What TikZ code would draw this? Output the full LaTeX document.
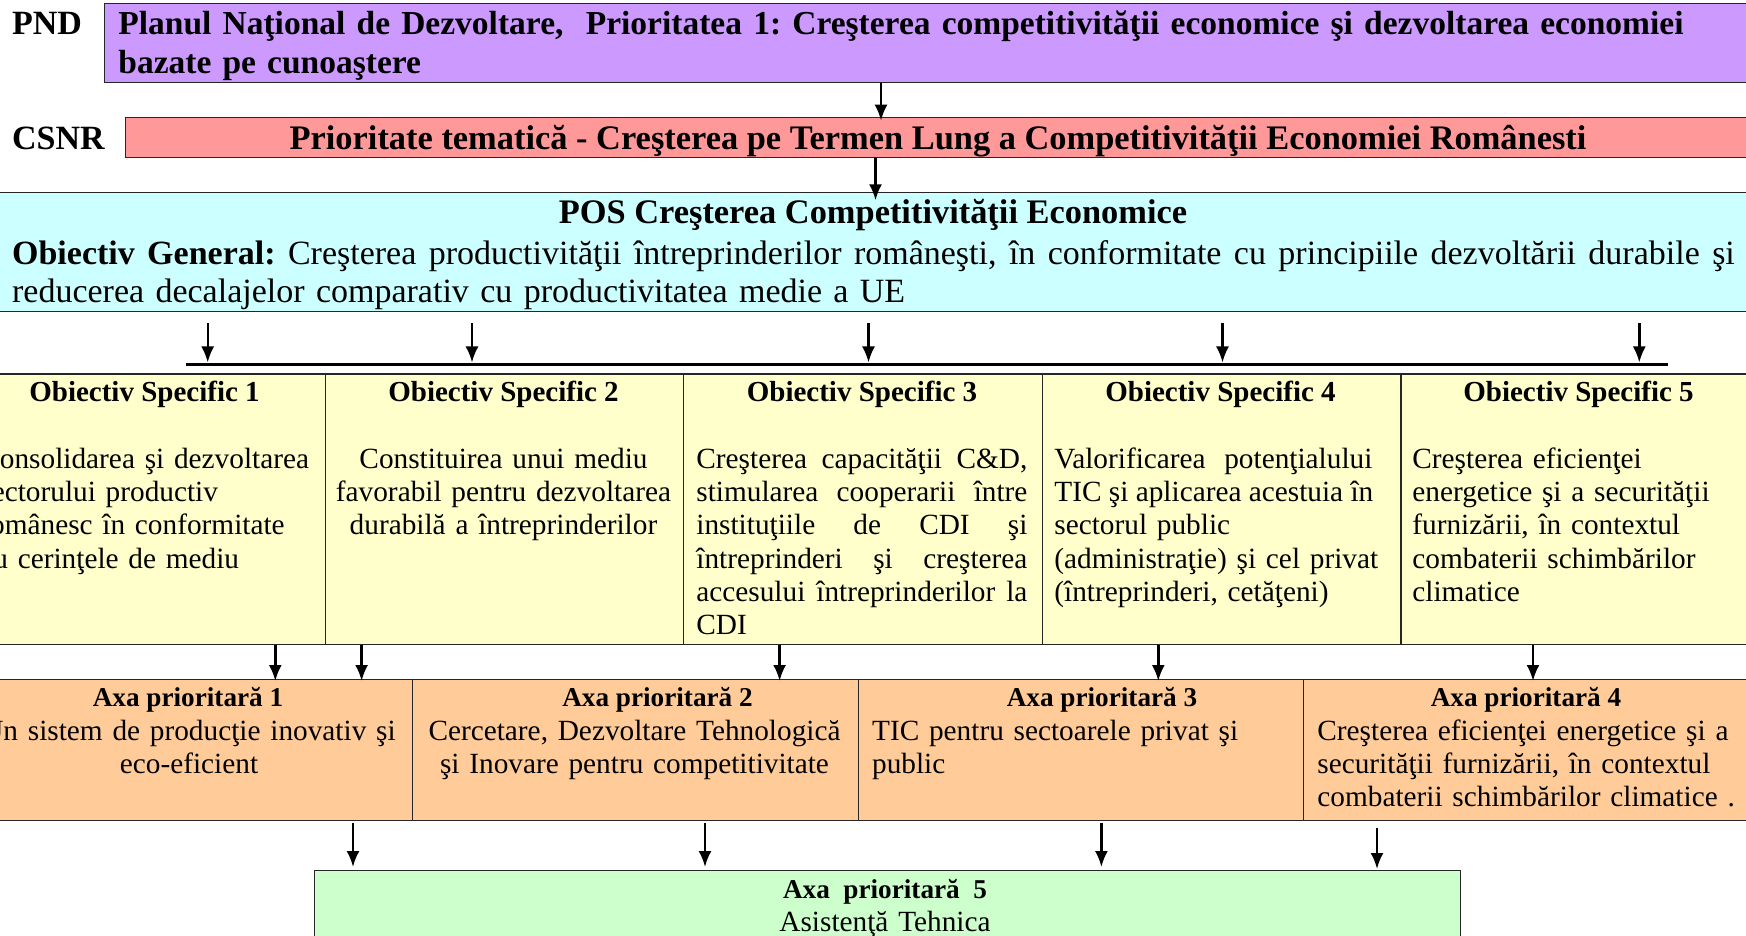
\documentclass[tikz,border=0pt]{standalone}
\usepackage{fontspec}
\setmainfont{Liberation Serif}
\frenchspacing
\usetikzlibrary{arrows.meta}

\definecolor{pndfill}{HTML}{CC99FF}
\definecolor{csnrfill}{HTML}{FF9999}
\definecolor{posfill}{HTML}{CCFFFF}
\definecolor{osfill}{HTML}{FFFFCC}
\definecolor{axafill}{HTML}{FFCC99}
\definecolor{ta5fill}{HTML}{CCFFCC}

\tikzstyle{box} = [rectangle, draw=black!85, line width=0.6pt, inner sep=0pt, anchor=north west]
\tikzstyle{arrow} = [line width=1.2pt,->,>={Latex[length=8pt,width=6.5pt]}]
\tikzstyle{bigtext} = [font=\fontsize{17}{19.2}\selectfont\bfseries, inner sep=0pt]
\tikzstyle{oshead} = [font=\fontsize{14.5}{16.65}\selectfont\bfseries, inner sep=0pt, anchor=base]
\tikzstyle{axahead} = [font=\fontsize{13.6}{16}\selectfont\bfseries, inner sep=0pt, anchor=base]
\tikzstyle{bodytext} = [font=\fontsize{14.65}{16.65}\selectfont, inner sep=0pt, align=left, anchor=base west]
\tikzstyle{midtext} = [font=\fontsize{14.65}{16.65}\selectfont, inner sep=0pt, align=center, anchor=base]

% one line stretched to a given width
\newcommand{\fullline}[2]{\leavevmode\hbox to #1{\spaceskip=0.25em plus 1fil\relax #2}\\}

\begin{document}
\begin{tikzpicture}[x=0.5pt, y=-0.5pt]
    \useasboundingbox (0,0) rectangle (1746,936);
    \clip (0,0) rectangle (1746,936);

    % top levels
    \node (pnd) [box, fill=pndfill, minimum width=828pt, minimum height=39.5pt] at (104,3.3) {};
    \node (csnr) [box, fill=csnrfill, minimum width=817.5pt, minimum height=20.3pt] at (125,116.7) {};
    \node (pos) [box, fill=posfill, minimum width=885pt, minimum height=59.2pt] at (-10,192.3) {};

    \node (pndlabel) [bigtext, anchor=base west] at (11.7,35) {PND};
    \node (csnrlabel) [bigtext, anchor=base west] at (11.7,150) {CSNR};

    \node (pndtext) [bigtext, font=\fontsize{16.75}{19.2}\selectfont\bfseries, anchor=base west,
        text width=815pt, align=left] at (118,35)
        {Planul Naţional de Dezvoltare,~ Prioritatea 1: Creşterea competitivităţii economice şi dezvoltarea economiei\\ bazate pe cunoaştere};
    \node (csnrtext) [bigtext, font=\fontsize{17.2}{19.2}\selectfont\bfseries, anchor=base] at (938,150)
        {Prioritate tematică - Creşterea pe Termen Lung a Competitivităţii Economiei Românesti};
    \node (postitle) [bigtext, font=\fontsize{17.2}{19.2}\selectfont\bfseries, anchor=base] at (873,224)
        {POS Creşterea Competitivităţii Economice};
    \node (postext) [inner sep=0pt, anchor=base west, text width=865pt, align=left,
        font=\fontsize{17}{19}\selectfont] at (11.7,264.5)
        {\fullline{861.3pt}{\textbf{Obiectiv General:} Creşterea productivităţii întreprinderilor româneşti, în conformitate cu principiile dezvoltării durabile şi}
         reducerea decalajelor comparativ cu productivitatea medie a UE};

    % distribution bar
    \coordinate (barleft) at (186,364.3);
    \coordinate (barright) at (1668,364.3);
    \draw [line width=1.8pt] (barleft) -- (barright);

    % specific objectives
    \node (os1) [box, fill=osfill, minimum width=179.3pt, minimum height=135.35pt] at (-34,373.3) {};
    \node (os2) [box, fill=osfill, minimum width=179.3pt, minimum height=135.35pt] at (324.6,373.3) {};
    \node (os3) [box, fill=osfill, minimum width=179.3pt, minimum height=135.35pt] at (683.2,373.3) {};
    \node (os4) [box, fill=osfill, minimum width=179.3pt, minimum height=135.35pt] at (1041.8,373.3) {};
    \node (os5) [box, fill=osfill, minimum width=179.3pt, minimum height=135.35pt] at (1400.4,373.3) {};

    \node (os1head) [oshead] at (144.5,401) {Obiectiv Specific 1};
    \node (os2head) [oshead] at (503.5,401) {Obiectiv Specific 2};
    \node (os3head) [oshead] at (862,401) {Obiectiv Specific 3};
    \node (os4head) [oshead] at (1220.5,401) {Obiectiv Specific 4};
    \node (os5head) [oshead] at (1578.5,401) {Obiectiv Specific 5};

    \node (os1text) [bodytext, text width=170pt] at (-20,468.3)
        {Consolidarea şi dezvoltarea\\ sectorului productiv\\ românesc în conformitate\\ cu cerinţele de mediu};
    \node (os2text) [midtext, text width=175pt] at (503.5,468.3)
        {Constituirea unui mediu\\ favorabil pentru dezvoltarea\\ durabilă a întreprinderilor};
    \node (os3text) [bodytext, text width=170pt] at (696,468.3)
        {\fullline{165.5pt}{Creşterea capacităţii C\&D,}
         \fullline{165.5pt}{stimularea cooperarii între}
         \fullline{165.5pt}{instituţiile de CDI şi}
         \fullline{165.5pt}{întreprinderi şi creşterea}
         \fullline{165.5pt}{accesului întreprinderilor la}
         CDI};
    \node (os4text) [bodytext, text width=170pt] at (1054,468.3)
        {\fullline{159pt}{Valorificarea potenţialului}
         \fullline{159pt}{TIC şi aplicarea acestuia în}
         sectorul public\\ (administraţie) şi cel privat\\ (întreprinderi, cetăţeni)};
    \node (os5text) [bodytext, text width=170pt] at (1412,468.3)
        {Creşterea eficienţei\\ energetice şi a securităţii\\ furnizării, în contextul\\ combaterii schimbărilor\\ climatice};

    % priority axes
    \node (axa1) [box, fill=axafill, minimum width=223pt, minimum height=70.5pt] at (-34,679) {};
    \node (axa2) [box, fill=axafill, minimum width=222.85pt, minimum height=70.5pt] at (412,679) {};
    \node (axa3) [box, fill=axafill, minimum width=222.65pt, minimum height=70.5pt] at (857.7,679) {};
    \node (axa4) [box, fill=axafill, minimum width=230pt, minimum height=70.5pt] at (1303,679) {};
    \node (axa5) [box, fill=ta5fill, minimum width=573pt, minimum height=45pt] at (314,870) {};

    \node (axa1head) [axahead] at (188,706.7) {Axa prioritară 1};
    \node (axa2head) [axahead] at (657.5,706.7) {Axa prioritară 2};
    \node (axa3head) [axahead] at (1102,706.7) {Axa prioritară 3};
    \node (axa4head) [axahead] at (1526,706.7) {Axa prioritară 4};
    \node (axa5head) [axahead] at (885,898.3) {Axa~ prioritară~ 5};

    \node (axa1text) [midtext, text width=215pt] at (189,740)
        {Un sistem de producţie inovativ şi\\ eco-eficient};
    \node (axa2text) [midtext, text width=215pt] at (634.5,740)
        {Cercetare, Dezvoltare Tehnologică\\ şi Inovare pentru competitivitate};
    \node (axa3text) [bodytext, text width=210pt] at (871.7,740)
        {TIC pentru sectoarele privat şi\\ public};
    \node (axa4text) [bodytext, text width=212pt] at (1317,740)
        {Creşterea eficienţei energetice şi a\\ securităţii furnizării, în contextul\\ combaterii schimbărilor climatice .};
    \node (axa5text) [midtext, text width=300pt] at (885,931.7) {Asistenţă Tehnica};

    % connectors
    \coordinate (a1) at (881,0);
    \coordinate (a2) at (875.5,0);
    \draw [arrow] (pnd.south -| a1) -- ([yshift=-2pt]csnr.north -| a1);
    \draw [arrow] (csnr.south -| a2) -- ([yshift=-4pt]pos.north -| a2);

    \foreach \x in {207.7,472,868.5,1222.5,1639.3} {
        \coordinate (tmp) at (\x,0);
        \draw [arrow] ([yshift=-5.5pt]pos.south -| tmp) -- ([yshift=0.9pt]barleft -| tmp);
    }

    \coordinate (b1) at (275.3,0);
    \coordinate (b2) at (361.6,0);
    \coordinate (b3) at (779.6,0);
    \coordinate (b4) at (1158.3,0);
    \coordinate (b5) at (1533,0);
    \draw [arrow] (os1.south -| b1) -- ([yshift=-1pt]axa1.north -| b1);
    \draw [arrow] (os2.south -| b2) -- ([yshift=-1pt]axa1.north -| b2);
    \draw [arrow] (os3.south -| b3) -- ([yshift=-1pt]axa2.north -| b3);
    \draw [arrow] (os4.south -| b4) -- ([yshift=-1pt]axa3.north -| b4);
    \draw [arrow] (os5.south -| b5) -- ([yshift=-1pt]axa4.north -| b5);

    \coordinate (c1) at (353,0);
    \coordinate (c2) at (705,0);
    \coordinate (c3) at (1101.4,0);
    \coordinate (c4) at (1377,0);
    \draw [arrow] ([yshift=-1pt]axa1.south -| c1) -- ([yshift=1.5pt]axa5.north -| c1);
    \draw [arrow] ([yshift=-1pt]axa2.south -| c2) -- ([yshift=1.5pt]axa5.north -| c2);
    \draw [arrow] ([yshift=-1pt]axa3.south -| c3) -- ([yshift=1.5pt]axa5.north -| c3);
    \draw [arrow] ([yshift=-3.5pt]axa4.south -| c4) -- ([yshift=0.5pt]axa5.north -| c4);
\end{tikzpicture}
\end{document}
